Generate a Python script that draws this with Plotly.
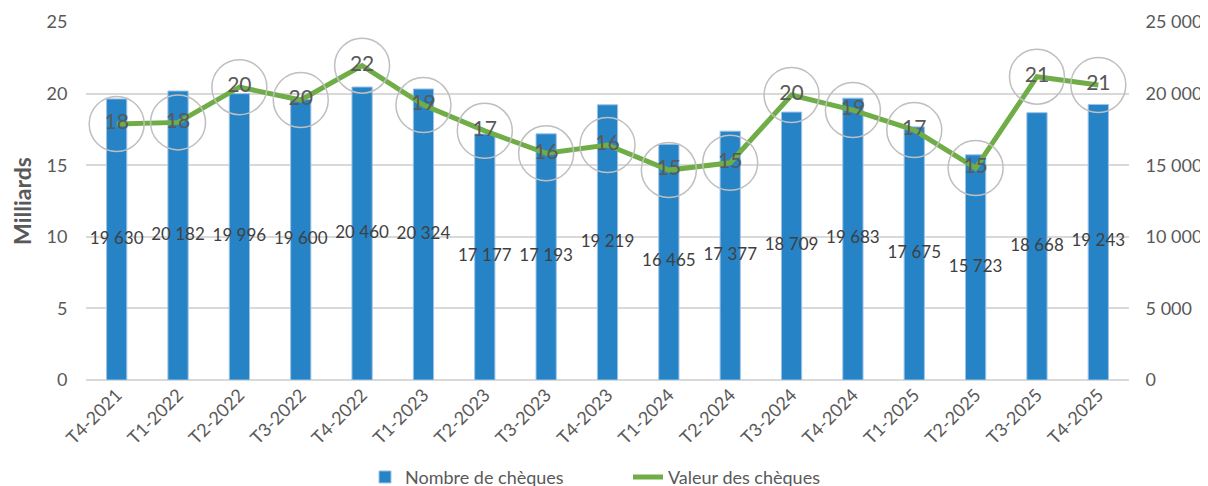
import plotly.graph_objects as go

categories = ["T4-2021", "T1-2022", "T2-2022", "T3-2022", "T4-2022", "T1-2023", "T2-2023",
              "T3-2023", "T4-2023", "T1-2024", "T2-2024", "T3-2024", "T4-2024", "T1-2025",
              "T2-2025", "T3-2025", "T4-2025"]
nombre_cheques = [19630, 20182, 19996, 19600, 20460, 20324, 17177, 17193, 19219, 16465,
                  17377, 18709, 19683, 17675, 15723, 18668, 19243]
valeur_cheques = [17.88, 17.99, 20.45, 19.55, 21.95, 19.2, 17.4, 15.83, 16.41, 14.66,
                  15.17, 19.9, 18.85, 17.45, 14.8, 21.18, 20.6]

FONT = "Lato"
GREY = "#595959"

def fmt(v):
    return f"{v:,}".replace(",", " ")

fig = go.Figure()

# bars on the base axis (drawn on the right side)
fig.add_trace(go.Bar(
    x=categories, y=nombre_cheques, yaxis="y", name="Nombre de chèques",
    marker=dict(color="#2683C6", line=dict(color="#9DC3E6", width=1)),
    width=0.33, hoverinfo="x+y",
))

# bar value labels at bar mid-height
fig.add_trace(go.Scatter(
    x=categories, y=[v / 2 for v in nombre_cheques], yaxis="y", mode="text",
    text=[fmt(v) for v in nombre_cheques], textposition="middle center",
    textfont=dict(family=FONT, size=17, color="#404040"),
    showlegend=False, hoverinfo="skip",
))

# line on the overlaying axis (drawn on the left side, on top of bars)
fig.add_trace(go.Scatter(
    x=categories, y=valeur_cheques, yaxis="y2", name="Valeur des chèques",
    mode="lines", line=dict(color="#70AD47", width=5),
))

# circled data labels
fig.add_trace(go.Scatter(
    x=categories, y=valeur_cheques, yaxis="y2", mode="markers+text",
    marker=dict(symbol="circle", size=55, color="rgba(0,0,0,0)",
                line=dict(color="#BFBFBF", width=1.5)),
    text=[f"{v:.0f}" for v in valeur_cheques], textposition="middle center",
    textfont=dict(family=FONT, size=21, color=GREY),
    showlegend=False, hoverinfo="skip",
))

fig.update_layout(
    width=1208, height=486,
    paper_bgcolor="white", plot_bgcolor="white",
    font=dict(family=FONT, color=GREY),
    margin=dict(l=78, r=87, t=14, b=114, autoexpand=False),
    xaxis=dict(
        range=[-0.5, len(categories) - 0.5],
        tickangle=-45, tickfont=dict(size=18, color=GREY),
        showgrid=False, showline=False, ticks="",
    ),
    yaxis=dict(
        range=[0, 25000], dtick=5000, side="right",
        showgrid=True, gridcolor="#D9D9D9", gridwidth=1.5,
        zeroline=True, zerolinecolor="#D9D9D9", zerolinewidth=1.5,
        tickformat=",d", tickfont=dict(size=18, color=GREY),
        ticks="outside", ticklen=12, tickcolor="rgba(0,0,0,0)",
    ),
    yaxis2=dict(
        range=[0, 25], dtick=5, overlaying="y", side="left",
        showgrid=False, zeroline=False,
        tickfont=dict(size=18, color=GREY),
        ticks="outside", ticklen=14, tickcolor="rgba(0,0,0,0)",
        title=dict(text="<b>Milliards</b>", font=dict(size=23, color=GREY), standoff=8),
    ),
    separators=", ",
    legend=dict(
        orientation="h", x=0.2675, xanchor="left", y=-0.22, yanchor="top",
        font=dict(size=18, color=GREY), traceorder="normal",
        entrywidth=218, entrywidthmode="pixels",
    ),
    showlegend=True,
)

fig.write_html("out.html")
